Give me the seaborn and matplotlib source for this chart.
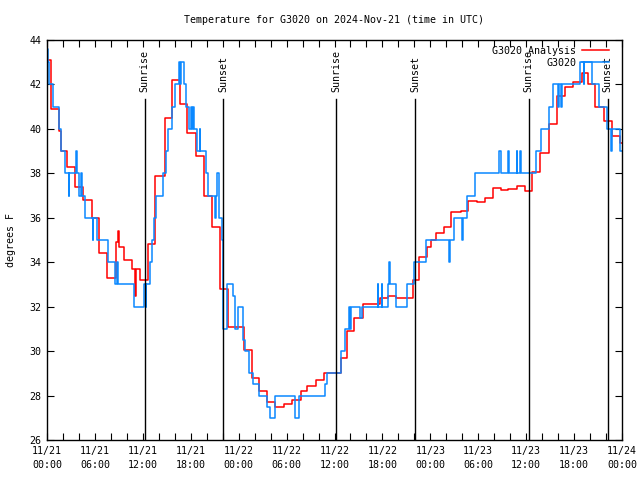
import matplotlib
matplotlib.use("Agg")
import matplotlib.pyplot as plt
import matplotlib.dates as mdates
import pandas as pd
import seaborn as sns

# step series: hours since 2024-11-21 00:00 UTC, temperature in deg F
analysis_hours = [0.0, 0.5, 1.55, 1.7, 2.45, 3.55, 4.55, 5.6, 6.5, 7.55, 8.6, 8.95, 9.05,
                  9.65, 10.7, 11.0, 11.1, 11.65, 12.6, 13.55, 14.8, 15.65, 16.7, 17.55,
                  18.65, 19.65, 20.7, 21.6, 21.65, 22.65, 24.65, 25.7, 26.55, 27.5, 28.6,
                  29.7, 30.7, 31.8, 32.6, 33.7, 34.7, 36.8, 37.6, 38.5, 39.6, 41.7, 42.7,
                  43.7, 45.8, 46.6, 47.6, 48.1, 48.7, 49.7, 50.6, 51.8, 52.7, 53.9, 54.8,
                  55.9, 56.8, 57.75, 58.8, 59.8, 60.75, 61.7, 62.8, 63.8, 64.9, 65.9, 67.0,
                  67.8, 68.6, 69.7, 70.7, 71.8, 72.0]
analysis_temp = [43.1, 40.9, 39.9, 39.0, 38.3, 37.4, 36.8, 36.0, 34.4, 33.3, 34.9, 35.4, 34.7,
                 34.1, 33.7, 32.5, 33.7, 33.2, 34.8, 37.9, 40.5, 42.2, 41.1, 39.8,
                 38.8, 37.0, 35.6, 34.2, 32.8, 31.1, 30.05, 28.8, 28.2, 27.7, 27.5,
                 27.6, 27.8, 28.2, 28.45, 28.7, 29.0, 29.7, 30.9, 31.5, 32.1, 32.4, 32.5,
                 32.4, 33.2, 34.25, 34.7, 35.0, 35.3, 35.6, 36.25, 36.3, 36.75, 36.7, 36.9,
                 37.35, 37.25, 37.3, 37.45, 37.2, 38.07, 38.9, 40.2, 41.5, 41.9, 42.1, 42.5,
                 42.0, 41.0, 40.35, 39.7, 39.35, 39.35]

obs_hours = [0.0, 0.15, 0.2, 0.8, 1.5, 1.7, 2.3, 2.7, 2.8, 3.6, 3.75, 4.0, 4.3, 4.4, 4.7,
             5.7, 5.8, 6.3, 7.6, 8.5, 8.8, 8.9, 10.85, 12.1, 12.35, 12.45, 12.9, 13.2,
             13.45, 13.6, 14.5, 14.85, 15.15, 15.6, 16.0, 16.5, 16.7, 16.8, 17.1, 17.4,
             17.8, 18.0, 18.1, 18.3, 18.4, 18.8, 19.1, 19.2, 19.9, 20.1, 21.0, 21.1,
             21.3, 21.55, 21.9, 22.05, 22.6, 23.3, 23.55, 23.9, 24.6, 24.75, 25.3, 25.8,
             26.5, 27.6, 27.9, 28.6, 31.0, 31.5, 34.8, 35.05, 36.8, 37.3, 37.8, 38.0,
             38.1, 39.2, 39.5, 41.4, 41.5, 41.9, 42.0, 42.7, 42.8, 42.95, 43.7, 45.1,
             45.9, 47.4, 50.35, 50.45, 51.0, 51.95, 52.05, 52.6, 53.6, 56.6, 56.8, 57.7,
             57.8, 58.8, 58.9, 59.2, 59.3, 61.2, 61.8, 62.8, 63.4, 64.0, 64.15, 64.4,
             64.5, 66.8, 67.2, 67.3, 68.2, 69.1, 70.1, 70.6, 70.75, 71.8, 72.0]
obs_temp = [43.6, 43.0, 42.0, 41.0, 40.0, 39.0, 38.0, 37.0, 38.0, 39.0, 38.0, 37.0, 38.0, 37.0, 36.0,
            35.0, 36.0, 35.0, 34.0, 33.0, 34.0, 33.0, 32.0, 33.0, 32.0, 33.0, 34.0, 35.0,
            36.0, 37.0, 38.0, 39.0, 40.0, 41.0, 42.0, 43.0, 42.0, 43.0, 42.0, 41.0,
            40.0, 41.0, 40.0, 41.0, 40.0, 39.0, 40.0, 39.0, 38.0, 37.0, 36.0, 37.0,
            38.0, 36.0, 35.0, 31.0, 33.0, 32.5, 31.0, 32.0, 30.5, 30.0, 29.0, 28.5,
            28.0, 27.5, 27.0, 28.0, 27.0, 28.0, 28.5, 29.0, 30.0, 31.0, 32.0, 31.0,
            32.0, 31.5, 32.0, 33.0, 32.0, 33.0, 32.0, 33.0, 34.0, 33.0, 32.0, 33.0,
            34.0, 35.0, 34.0, 35.0, 36.0, 35.0, 36.0, 37.0, 38.0, 39.0, 38.0, 39.0,
            38.0, 39.0, 38.0, 39.0, 38.0, 39.0, 40.0, 41.0, 42.0, 41.0, 42.0, 41.0,
            42.0, 43.0, 42.0, 43.0, 42.0, 41.0, 40.0, 39.0, 40.0, 39.0, 39.0]

sun_hours = [12.22, 22.03, 36.18, 46.1, 60.3, 70.2]
sun_labels = ["Sunrise", "Sunset", "Sunrise", "Sunset", "Sunrise", "Sunset"]

start = pd.Timestamp("2024-11-21 00:00")
df = pd.concat([
    pd.DataFrame({"hours": analysis_hours, "temp": analysis_temp, "series": "G3020 Analysis"}),
    pd.DataFrame({"hours": obs_hours, "temp": obs_temp, "series": "G3020"}),
], ignore_index=True)
df["time"] = start + pd.to_timedelta(df["hours"], unit="h")

mono = "DejaVu Sans Mono"
plt.rcParams["font.family"] = mono
plt.rcParams["font.size"] = 7.2

fig = plt.figure(figsize=(6.4, 4.8), dpi=100)
ax = fig.add_axes([47 / 640, 40 / 480, 575 / 640, 400 / 480])

sns.lineplot(data=df, x="time", y="temp", hue="series",
             hue_order=["G3020 Analysis", "G3020"],
             palette={"G3020 Analysis": "#ff0000", "G3020": "#0a88ff"},
             estimator=None, sort=False, drawstyle="steps-post",
             linewidth=1.1, ax=ax)

for h, lab in zip(sun_hours, sun_labels):
    t = start + pd.Timedelta(hours=h)
    ax.axvline(t, ymin=0, ymax=0.853, color="black", linewidth=1.0)
    ax.text(t, 0.87, lab, rotation=90, ha="center", va="bottom",
            transform=ax.get_xaxis_transform(), fontsize=7.2)

ax.set_xlim(start, start + pd.Timedelta(hours=72))
ax.set_ylim(26, 44)
ax.set_yticks(range(26, 45, 2))
ax.xaxis.set_major_locator(mdates.HourLocator(byhour=[0, 6, 12, 18]))
ax.xaxis.set_minor_locator(mdates.HourLocator(byhour=range(0, 24, 2)))
ax.xaxis.set_major_formatter(mdates.DateFormatter("%m/%d\n%H:%M"))
ax.tick_params(which="both", direction="in", top=True, right=True, length=5, width=0.8,
               labelsize=7.2, pad=4)
for lbl in ax.get_xticklabels():
    lbl.set_linespacing(1.5)
for s in ax.spines.values():
    s.set_linewidth(1.0)

ax.set_xlabel("")
ax.set_ylabel("degrees F", fontsize=7.2, labelpad=10)
ax.set_title("Temperature for G3020 on 2024-Nov-21 (time in UTC)", fontsize=7.2, pad=12)

handles, labels = ax.get_legend_handles_labels()
ax.legend(handles, labels, loc="upper right", frameon=False, markerfirst=False,
          handlelength=2.7, borderaxespad=0.2, labelspacing=0.2, handletextpad=0.6,
          fontsize=7.2, bbox_to_anchor=(0.988, 1.0))

fig.savefig("out.png", dpi=100)
